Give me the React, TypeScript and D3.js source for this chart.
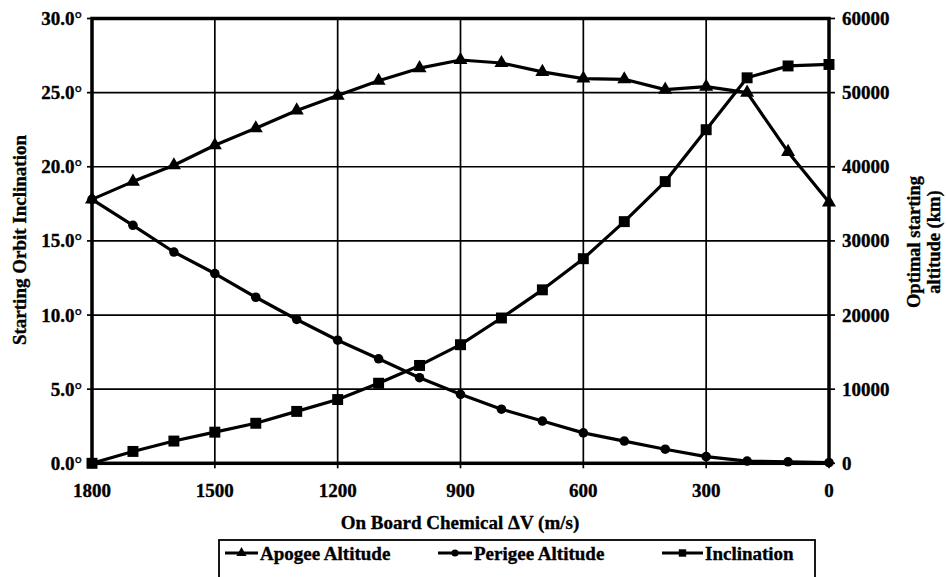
import React from "react";
import * as d3 from "d3";

const deltaV = [1800, 1700, 1600, 1500, 1400, 1300, 1200, 1100, 1000, 900, 800, 700, 600, 500, 400, 300, 200, 100, 0];
const apogeeKm = [35600, 38000, 40200, 42900, 45200, 47600, 49600, 51600, 53300, 54400, 54000, 52800, 51900, 51800, 50400, 50800, 50000, 42000, 35200];
const perigeeKm = [35600, 32100, 28500, 25600, 22400, 19400, 16600, 14100, 11550, 9300, 7300, 5700, 4100, 3000, 1900, 900, 300, 200, 100];
const inclinationDeg = [0, 0.8, 1.5, 2.1, 2.7, 3.5, 4.3, 5.4, 6.6, 8.0, 9.8, 11.7, 13.8, 16.3, 19.0, 22.5, 26.0, 26.8, 26.9];

const xTicks = [1800, 1500, 1200, 900, 600, 300, 0];
const leftTicks = [0, 5, 10, 15, 20, 25, 30];
const rightTicks = [0, 10000, 20000, 30000, 40000, 50000, 60000];

const seriesNames = ["Apogee Altitude", "Perigee Altitude", "Inclination"];

const W = 946;
const H = 577;
const PL = 92;
const PR = 829;
const PT = 18.5;
const PB = 463.3;
const FONT = "'Liberation Serif', 'Times New Roman', serif";

export default function App() {
  const x = d3.scaleLinear().domain([1800, 0]).range([PL, PR]);
  const yL = d3.scaleLinear().domain([0, 30]).range([PB, PT]);
  const yR = d3.scaleLinear().domain([0, 60000]).range([PB, PT]);

  const lineR = d3
    .line<number>()
    .x((_, i) => x(deltaV[i]))
    .y((d) => yR(d));
  const lineL = d3
    .line<number>()
    .x((_, i) => x(deltaV[i]))
    .y((d) => yL(d));

  const tri = d3.symbol().type(d3.symbolTriangle).size(85)()!;
  const sq = d3.symbol().type(d3.symbolSquare).size(120)()!;
  const circ = d3.symbol().type(d3.symbolCircle).size(72)()!;
  const triS = d3.symbol().type(d3.symbolTriangle).size(45)()!;
  const sqS = d3.symbol().type(d3.symbolSquare).size(55)()!;
  const circS = d3.symbol().type(d3.symbolCircle).size(40)()!;

  const series = [
    { name: seriesNames[0], values: apogeeKm, path: lineR(apogeeKm)!, y: yR, sym: tri, symS: triS },
    { name: seriesNames[1], values: perigeeKm, path: lineR(perigeeKm)!, y: yR, sym: circ, symS: circS },
    { name: seriesNames[2], values: inclinationDeg, path: lineL(inclinationDeg)!, y: yL, sym: sq, symS: sqS },
  ];

  const legendItems = [
    { x0: 225, x1: 258, tx: 260 },
    { x0: 438, x1: 472, tx: 474 },
    { x0: 662, x1: 703, tx: 705 },
  ];
  const legendY = 553;
  const textStyle = { stroke: "#000", strokeWidth: 0.35 };

  return (
    <svg
      width={W}
      height={H}
      style={{ position: "absolute", left: 0, top: 0, background: "#fff" }}
      fontFamily={FONT}
      fontWeight="bold"
    >
      <rect x={0} y={0} width={W} height={H} fill="#fff" />
      {/* gridlines */}
      {leftTicks.map((t) => (
        <line key={"gh" + t} x1={PL} x2={PR} y1={yL(t)} y2={yL(t)} stroke="#000" strokeWidth={1.7} />
      ))}
      {xTicks.map((t) => (
        <line key={"gv" + t} x1={x(t)} x2={x(t)} y1={PT} y2={PB} stroke="#000" strokeWidth={1.7} />
      ))}
      {/* border */}
      <rect x={PL} y={PT} width={PR - PL} height={PB - PT} fill="none" stroke="#000" strokeWidth={3.5} />
      {/* tick marks */}
      {leftTicks.map((t) => (
        <line key={"lt" + t} x1={PL - 5} x2={PL} y1={yL(t)} y2={yL(t)} stroke="#000" strokeWidth={1.7} />
      ))}
      {rightTicks.map((t) => (
        <line key={"rt" + t} x1={PR} x2={PR + 6} y1={yR(t)} y2={yR(t)} stroke="#000" strokeWidth={1.7} />
      ))}
      {xTicks.map((t) => (
        <line key={"bt" + t} x1={x(t)} x2={x(t)} y1={PB} y2={PB + 5} stroke="#000" strokeWidth={1.7} />
      ))}

      {/* series */}
      {series.map((s) => (
        <g key={s.name}>
          <path d={s.path} fill="none" stroke="#000" strokeWidth={3.2} strokeLinejoin="round" />
          {s.values.map((v, i) => (
            <path key={i} d={s.sym} transform={`translate(${x(deltaV[i])},${s.y(v)})`} fill="#000" />
          ))}
        </g>
      ))}

      <g style={textStyle}>
        {/* left tick labels */}
        {leftTicks.map((t) => (
          <text key={"ll" + t} x={82} y={yL(t) + 6.5} textAnchor="end" fontSize={19}>
            {t.toFixed(1) + "\u00b0"}
          </text>
        ))}
        {/* right tick labels */}
        {rightTicks.map((t) => (
          <text key={"rl" + t} x={842} y={yR(t) + 6.5} textAnchor="start" fontSize={19}>
            {String(t)}
          </text>
        ))}
        {/* x tick labels */}
        {xTicks.map((t) => (
          <text key={"xl" + t} x={x(t)} y={497} textAnchor="middle" fontSize={19}>
            {String(t)}
          </text>
        ))}

        {/* axis titles */}
        <text x={460} y={528.5} textAnchor="middle" fontSize={19}>
          On Board Chemical ΔV (m/s)
        </text>
        <text transform="translate(26,240) rotate(-90)" textAnchor="middle" fontSize={19}>
          Starting Orbit Inclination
        </text>
        <text transform="translate(920,242) rotate(-90)" textAnchor="middle" fontSize={18.5}>
          Optimal starting
        </text>
        <text transform="translate(940,242) rotate(-90)" textAnchor="middle" fontSize={18.5}>
          altitude (km)
        </text>
      </g>

      {/* legend */}
      <rect x={219} y={540} width={815 - 219} height={60} fill="none" stroke="#000" strokeWidth={1.8} />
      {series.map((s, i) => {
        const L = legendItems[i];
        return (
          <g key={"lg" + i}>
            <line x1={L.x0} x2={L.x1} y1={legendY} y2={legendY} stroke="#000" strokeWidth={3} />
            <path d={s.symS} transform={`translate(${(L.x0 + L.x1) / 2},${legendY})`} fill="#000" />
            <text x={L.tx} y={560} fontSize={19} style={textStyle}>
              {s.name}
            </text>
          </g>
        );
      })}
    </svg>
  );
}
